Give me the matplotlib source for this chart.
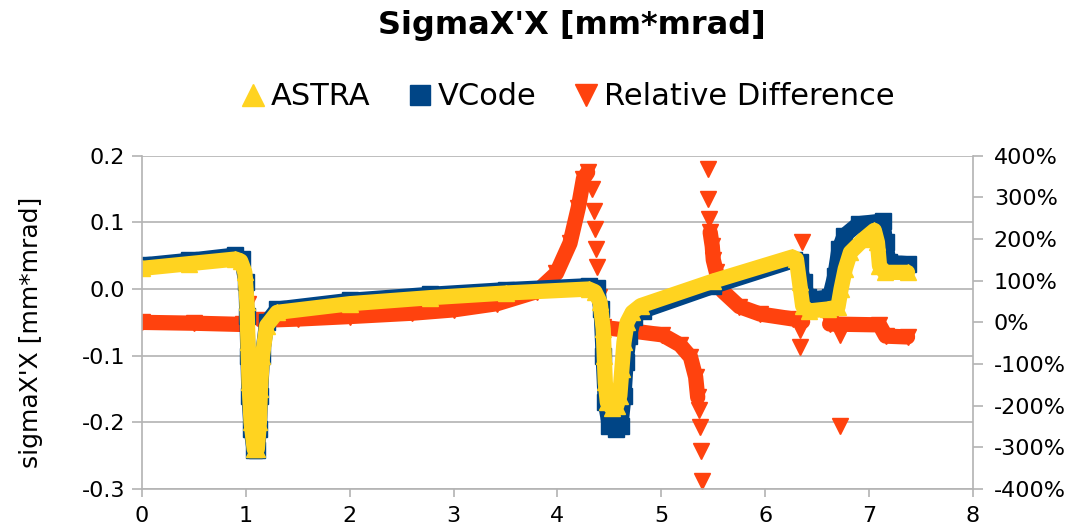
import matplotlib
matplotlib.use("Agg")
import matplotlib.pyplot as plt
import numpy as np
from matplotlib.lines import Line2D
from matplotlib.ticker import FormatStrFormatter, FuncFormatter
from matplotlib.transforms import blended_transform_factory

plt.rcParams["font.family"] = ["DejaVu Sans"]
plt.rcParams["axes.unicode_minus"] = False

# ASTRA sigmaX'X [mm*mrad] vs z [m]
astra_x = [0.00, 0.45, 0.90, 0.95, 0.99, 1.01, 1.02, 1.03, 1.05, 1.08, 1.11, 1.13,
           1.14, 1.16, 1.20, 1.30, 2.00, 2.77, 3.50, 4.30, 4.36, 4.41, 4.44, 4.45,
           4.46, 4.48, 4.52, 4.57, 4.60, 4.62, 4.64, 4.67, 4.72, 4.80, 5.50, 6.26,
           6.30, 6.33, 6.36, 6.42, 6.60, 6.70, 6.73, 6.77, 6.82, 6.95, 7.05, 7.08,
           7.10, 7.15, 7.37]
astra_y = [0.031, 0.038, 0.045, 0.042, 0.025, -0.02, -0.08, -0.14, -0.20, -0.240, -0.240, -0.20,
           -0.15, -0.10, -0.055, -0.035, -0.022, -0.013, -0.006, 0.000, -0.004, -0.02, -0.06, -0.10,
           -0.14, -0.17, -0.178, -0.175, -0.16, -0.12, -0.08, -0.05, -0.035, -0.025, 0.012, 0.048,
           0.045, 0.01, -0.025, -0.033, -0.030, -0.027, 0.000, 0.03, 0.055, 0.075, 0.088, 0.07,
           0.035, 0.025, 0.025]

# VCode
vcode_x = [0.00, 0.45, 0.90, 0.96, 1.00, 1.01, 1.02, 1.03, 1.05, 1.08, 1.11, 1.13,
           1.14, 1.16, 1.20, 1.30, 2.00, 2.77, 3.50, 4.30, 4.38, 4.42, 4.44, 4.46,
           4.50, 4.56, 4.61, 4.64, 4.66, 4.69, 4.74, 4.82, 5.50, 6.28, 6.33, 6.37,
           6.41, 6.46, 6.62, 6.67, 6.71, 6.76, 6.90, 7.13, 7.16, 7.19, 7.37]
vcode_y = [0.036, 0.043, 0.051, 0.045, 0.01, -0.04, -0.10, -0.16, -0.21, -0.242, -0.242, -0.21,
           -0.16, -0.10, -0.05, -0.030, -0.017, -0.008, -0.001, 0.005, 0.002, -0.03, -0.10, -0.17,
           -0.205, -0.21, -0.205, -0.16, -0.11, -0.07, -0.042, -0.033, 0.004, 0.043, 0.040, 0.01,
           -0.012, -0.015, -0.012, 0.02, 0.06, 0.08, 0.098, 0.102, 0.07, 0.04, 0.038]

# Relative difference [%], dense parts (nan = gap)
rel_x = [0.00, 0.50, 0.97, np.nan,
         1.15, 1.50, 2.00, 2.60, 3.00, 3.42, 3.80, 3.99, 4.12, 4.20, 4.25, 4.29, np.nan,
         4.44, 4.70, 5.01, 5.18, 5.28, 5.33, 5.35, np.nan,
         5.47, 5.49, 5.50, 5.53, 5.59, 5.75, 5.95, 6.27, 6.36, np.nan,
         6.62, 7.10, 7.16, 7.37]
rel_y = [0, -2, -5, np.nan,
         5, 8, 14, 22, 30, 45, 74, 118, 190, 275, 345, 360, np.nan,
         -12, -20, -30, -54, -83, -131, -180, np.nan,
         216, 183, 150, 120, 75, 38, 20, 8, 2, np.nan,
         -4, -6, -33, -35]

# Relative difference [%], isolated points
rel_pts_x = [1.01, 1.02, 4.33, 4.35, 4.36, 4.37, 4.38, 4.40, 5.36, 5.37, 5.38, 5.39,
             5.45, 5.45, 5.46, 6.33, 6.33, 6.35, 6.72, 6.72]
rel_pts_y = [-13, 45, 320, 267, 223, 175, 132, 60, -211, -252, -308, -380,
             368, 296, 247, -18, -59, 192, -30, -248]

x_ticks = [0, 1, 2, 3, 4, 5, 6, 7, 8]
left_ticks = [-0.3, -0.2, -0.1, 0.0, 0.1, 0.2]
right_ticks = [-400, -300, -200, -100, 0, 100, 200, 300, 400]

YELLOW = "#FFD320"
BLUE = "#004586"
ORANGE = "#FF420E"
GREY = "#b3b3b3"

fig = plt.figure(figsize=(10.75, 5.32), dpi=100)
ax = fig.add_axes([0.1321, 0.0808, 0.7730, 0.6265])
ax2 = ax.twinx()
ax.set_zorder(ax2.get_zorder() + 1)
ax.patch.set_visible(False)

# grid of the left axis, drawn behind everything
trans = blended_transform_factory(ax2.transAxes, ax.transData)
ax2.hlines(left_ticks, 0, 1, transform=trans, colors=GREY, linewidth=1.2, zorder=0)

band = dict(linewidth=11, solid_joinstyle="round", solid_capstyle="round", markersize=12)
ax2.plot(rel_x, rel_y, color=ORANGE, marker="v", **band)
ax2.plot(rel_pts_x, rel_pts_y, color=ORANGE, marker="v", linestyle="none", markersize=12)
ax.plot(vcode_x, vcode_y, color=BLUE, marker="s", **band)
ax.plot(astra_x, astra_y, color=YELLOW, marker="^", **band)

ax.set_xlim(0, 8)
ax.set_ylim(-0.3, 0.2)
ax2.set_ylim(-400, 400)
ax.set_xticks(x_ticks)
ax.set_yticks(left_ticks)
ax2.set_yticks(right_ticks)
ax.yaxis.set_major_formatter(FormatStrFormatter("%.1f"))
ax2.yaxis.set_major_formatter(FuncFormatter(lambda v, p: f"{v:.0f}%"))

for s in ["top", "right"]:
    ax.spines[s].set_visible(False)
for s in ["top", "left", "bottom"]:
    ax2.spines[s].set_visible(False)
for s in ["left", "bottom"]:
    ax.spines[s].set_color(GREY)
    ax.spines[s].set_linewidth(1.2)
ax2.spines["right"].set_color(GREY)
ax2.spines["right"].set_linewidth(1.2)

ax.tick_params(axis="x", direction="out", length=6, width=1.2, color=GREY, labelsize=16, pad=6)
ax.tick_params(axis="y", direction="out", length=7, width=1.2, color=GREY, labelsize=16, pad=5)
ax2.tick_params(axis="y", direction="out", length=7, width=1.2, color=GREY, labelsize=16, pad=8)

ax.set_ylabel("sigmaX'X [mm*mrad]", fontsize=18)
ax.yaxis.set_label_coords(-0.119, 0.47)

fig.text(0.532, 0.953, "SigmaX'X [mm*mrad]", ha="center", va="center",
         fontsize=23, fontweight="bold")

handles = [
    Line2D([], [], color=YELLOW, marker="^", linestyle="none", markersize=16),
    Line2D([], [], color=BLUE, marker="s", linestyle="none", markersize=15),
    Line2D([], [], color=ORANGE, marker="v", linestyle="none", markersize=16),
]
fig.legend(handles, ["ASTRA", "VCode", "Relative Difference"], loc="center",
           bbox_to_anchor=(0.528, 0.818), ncol=3, frameon=False, fontsize=22,
           handlelength=0.8, handletextpad=0.2, columnspacing=1.2)

fig.savefig("out.png", dpi=100)
